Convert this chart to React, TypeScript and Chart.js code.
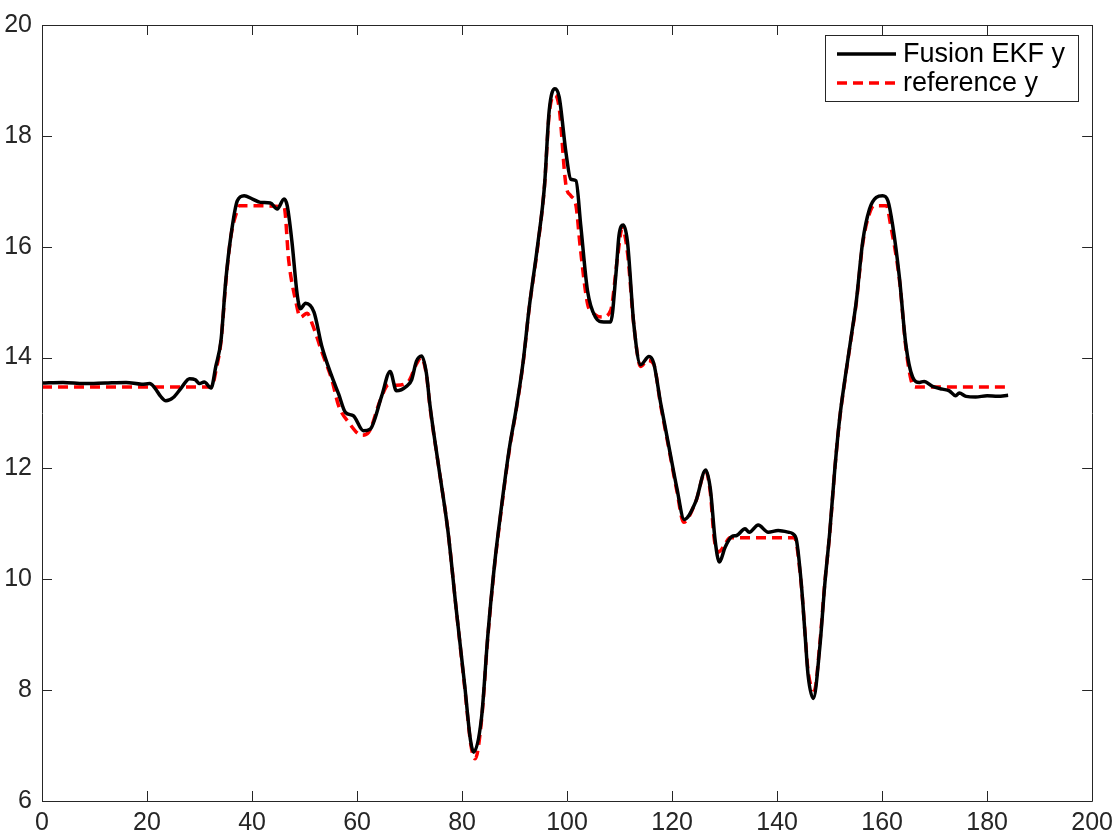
import { useEffect, useRef } from "react";
import { Chart, registerables } from "chart.js";

Chart.register(...registerables);

// ---- data ----
const seriesLabels = ["Fusion EKF y", "reference y"];

const fusionX = [
  0, 4, 8, 12, 16, 19, 20.5, 21.5, 22.6, 23.6, 25, 26.5, 28.1, 29.2, 30, 30.9, 32.2,
  33.1, 34.1, 35, 36, 37.2, 38.5, 40.1, 41.6, 43.5, 44.8, 46.1, 46.7, 47.6, 48.6, 49.2,
  50.2, 51.8, 53.3, 55.2, 56.5, 57.8, 59.3, 61.2, 62.5, 64.7, 66.3, 67.5, 69.4, 70.4,
  71.3, 72.3, 73.2, 73.9, 75.5, 77.3, 78.9, 80.5, 81.6, 82.2, 83.7, 84.9, 86.2, 87.4,
  89.0, 90.3, 91.6, 92.8, 94.4, 95.7, 96.6, 97.7, 98.5, 99.8, 100.7, 101.7, 102.6,
  103.9, 105.4, 107.0, 108.3, 109.3, 109.9, 110.7, 111.5, 112.7, 114.0, 115.6, 116.5,
  117.8, 118.4, 119.7, 120.9, 122.3, 124.5, 126.4, 127.3, 128.2, 129.0, 130.1, 131.4,
  132.3, 133.9, 134.7, 136.4, 138.3, 140.2, 142.1, 143.0, 143.7, 144.6, 145.3, 145.9,
  146.9, 148.1, 149.1, 150.0, 151.0, 151.9, 152.9, 154.1, 155.1, 156.3, 157.6, 158.9,
  160.1, 161.1, 162.0, 163.3, 164.5, 165.8, 167.1, 168.0, 169.6, 171.5, 172.8, 174.0,
  174.7, 176.0, 177.8, 180.0, 182.0, 184.0,
];
const fusionY = [
  13.54, 13.55, 13.53, 13.54, 13.55, 13.52, 13.53, 13.45, 13.3, 13.22, 13.28, 13.45,
  13.62, 13.6, 13.53, 13.56, 13.45, 13.84, 14.32, 15.39, 16.21, 16.83, 16.92, 16.86,
  16.8, 16.79, 16.68, 16.86, 16.74, 16.09, 15.14, 14.88, 14.98, 14.82, 14.2, 13.66,
  13.34, 13.01, 12.95, 12.68, 12.71, 13.31, 13.75, 13.4, 13.48, 13.6, 13.93, 14.03,
  13.72, 13.13, 12.06, 10.88, 9.45, 8.09, 7.1, 6.88, 7.5, 8.98, 10.28, 11.23, 12.36,
  13.07, 13.9, 14.91, 16.03, 17.1, 18.46, 18.85, 18.7, 17.69, 17.22, 17.19, 16.39,
  15.2, 14.73, 14.64, 14.64, 15.5, 16.21, 16.39, 16.09, 14.61, 13.87, 14.02, 13.9,
  13.19, 12.89, 12.24, 11.65, 11.08, 11.4, 11.97, 11.62, 10.7, 10.31, 10.58, 10.77,
  10.79, 10.91, 10.85, 10.98, 10.85, 10.88, 10.85, 10.82, 10.7, 9.93, 9.04, 8.27,
  7.85, 8.74, 9.93, 10.82, 12.0, 12.89, 13.6, 14.37, 15.03, 16.09, 16.68, 16.89,
  16.92, 16.83, 16.39, 15.44, 14.25, 13.65, 13.55, 13.57, 13.48, 13.43, 13.4, 13.31,
  13.36, 13.3, 13.29, 13.31, 13.3, 13.32,
];

const refX = [
  0, 32.3, 33.2, 34.1, 35, 36, 37, 37.6, 46.1, 47, 48.3, 49.2, 50.5, 51.5, 53.3, 55.2,
  56.5, 58.4, 60.9, 62.2, 64.5, 66, 67.5, 69.8, 71.3, 72.2, 73.2, 73.9, 75.5, 77.3,
  78.9, 80.5, 81.7, 82.5, 83.7, 84.9, 86.2, 87.4, 89.0, 90.3, 91.6, 92.8, 94.4, 95.7,
  96.6, 97.7, 98.5, 99.8, 100.7, 101.7, 102.5, 103.9, 105.1, 106.7, 108.3, 109.6,
  110.5, 111.5, 112.7, 114, 115.3, 116.5, 117.8, 118.4, 119.7, 120.9, 122.2, 124.5,
  126.4, 127.3, 128.0, 128.8, 130, 131, 143.3, 144.6, 145.3, 145.9, 147.1, 148.1,
  149.1, 150.0, 151.0, 151.9, 152.9, 154.1, 155.1, 156.3, 157.6, 158.5, 160.8, 161.6,
  163.3, 164.5, 165.5, 166.3, 184,
];
const refY = [
  13.47, 13.47, 13.8, 14.3, 15.35, 16.2, 16.6, 16.74, 16.72, 15.74, 15.03, 14.73,
  14.8, 14.6, 14.1, 13.6, 13.13, 12.83, 12.6, 12.65, 13.25, 13.51, 13.5, 13.57, 13.88,
  14.0, 13.7, 13.1, 12.06, 10.88, 9.45, 8.05, 7.0, 6.76, 7.45, 8.95, 10.25, 11.2,
  12.33, 13.05, 13.88, 14.9, 16.0, 17.1, 18.4, 18.73, 18.5, 17.1, 16.92, 16.74, 16.0,
  14.97, 14.79, 14.73, 14.85, 15.8, 16.33, 15.9, 14.6, 13.84, 13.95, 13.88, 13.15,
  12.85, 12.2, 11.6, 11.03, 11.4, 11.95, 11.55, 10.75, 10.49, 10.62, 10.75, 10.75,
  9.9, 9.05, 8.35, 8.0, 8.8, 9.95, 10.8, 12.0, 12.88, 13.58, 14.35, 15.0, 16.05,
  16.6, 16.74, 16.74, 16.4, 15.4, 14.2, 13.6, 13.47, 13.47,
];

const xTicks = [0, 20, 40, 60, 80, 100, 120, 140, 160, 180, 200];
const yTicks = [6, 8, 10, 12, 14, 16, 18, 20];

const FONT = "'Liberation Sans', Arial, Helvetica, sans-serif";
const AXIS_COLOR = "#262626";

const framePlugin = {
  id: "matlabFrame",
  afterDatasetsDraw(chart: any) {
    const { ctx, chartArea, scales } = chart;
    const { left, right, top, bottom } = chartArea;
    const tl = 10;
    ctx.save();
    ctx.strokeStyle = AXIS_COLOR;
    ctx.lineWidth = 1;
    ctx.beginPath();
    ctx.rect(Math.round(left) + 0.5, Math.round(top) + 0.5, Math.round(right - left), Math.round(bottom - top));
    scales.x.ticks.forEach((t: any) => {
      const px = Math.round(scales.x.getPixelForValue(t.value)) + 0.5;
      ctx.moveTo(px, bottom);
      ctx.lineTo(px, bottom - tl);
      ctx.moveTo(px, top);
      ctx.lineTo(px, top + tl);
    });
    scales.y.ticks.forEach((t: any) => {
      const py = Math.round(scales.y.getPixelForValue(t.value)) + 0.5;
      ctx.moveTo(left, py);
      ctx.lineTo(left + tl, py);
      ctx.moveTo(right, py);
      ctx.lineTo(right - tl, py);
    });
    ctx.stroke();
    ctx.restore();
  },
};

const legendPlugin = {
  id: "matlabLegend",
  afterDraw(chart: any) {
    const { ctx } = chart;
    const bx = 825, by = 35, bw = 253, bh = 66;
    ctx.save();
    ctx.fillStyle = "#ffffff";
    ctx.fillRect(bx, by, bw, bh);
    ctx.strokeStyle = AXIS_COLOR;
    ctx.lineWidth = 1;
    ctx.strokeRect(bx + 0.5, by + 0.5, bw, bh);
    const rows = [54, 83];
    chart.data.datasets.forEach((ds: any, i: number) => {
      const y = rows[i];
      ctx.strokeStyle = ds.borderColor;
      ctx.lineWidth = ds.borderWidth;
      ctx.setLineDash(ds.borderDash || []);
      ctx.beginPath();
      ctx.moveTo(837, y);
      ctx.lineTo(896, y);
      ctx.stroke();
      ctx.setLineDash([]);
      ctx.fillStyle = "#000000";
      ctx.font = `27px ${FONT}`;
      ctx.textBaseline = "middle";
      ctx.textAlign = "left";
      ctx.fillText(ds.label, 903, y + 1);
    });
    ctx.restore();
  },
};

export default function App() {
  const canvasRef = useRef<HTMLCanvasElement | null>(null);

  useEffect(() => {
    const canvas = canvasRef.current;
    if (!canvas) return;
    const chart = new Chart(canvas, {
      type: "line",
      data: {
        datasets: [
          {
            label: seriesLabels[0],
            data: fusionX.map((x, i) => ({ x, y: fusionY[i] })),
            borderColor: "#000000",
            borderWidth: 3.5,
            pointRadius: 0,
            cubicInterpolationMode: "monotone",
            fill: false,
          },
          {
            label: seriesLabels[1],
            data: refX.map((x, i) => ({ x, y: refY[i] })),
            borderColor: "#ff0000",
            borderWidth: 3.5,
            borderDash: [10, 6],
            pointRadius: 0,
            cubicInterpolationMode: "monotone",
            fill: false,
          },
        ],
      },
      options: {
        responsive: false,
        animation: false,
        events: [],
        layout: { padding: { top: 13.5, right: 23, left: 0, bottom: 0 } },
        plugins: { legend: { display: false }, tooltip: { enabled: false } },
        scales: {
          x: {
            type: "linear",
            min: 0,
            max: 200,
            grid: { display: false, drawTicks: false },
            border: { display: false },
            afterBuildTicks: (s: any) => {
              s.ticks = xTicks.map((v) => ({ value: v }));
            },
            afterFit: (s: any) => {
              s.height = 39;
            },
            ticks: {
              autoSkip: false,
              maxRotation: 0,
              padding: 7,
              color: AXIS_COLOR,
              font: { family: FONT, size: 25 },
            },
          },
          y: {
            type: "linear",
            min: 6,
            max: 20,
            grid: { display: false, drawTicks: false },
            border: { display: false },
            afterBuildTicks: (s: any) => {
              s.ticks = yTicks.map((v) => ({ value: v }));
            },
            afterFit: (s: any) => {
              s.width = 42;
            },
            ticks: {
              autoSkip: false,
              padding: 10,
              color: AXIS_COLOR,
              font: { family: FONT, size: 25 },
            },
          },
        },
      },
      plugins: [framePlugin, legendPlugin],
    } as any);
    return () => chart.destroy();
  }, []);

  return (
    <div style={{ position: "absolute", left: 0, top: 0, width: 1120, height: 840, background: "#fff" }}>
      <canvas ref={canvasRef} width={1120} height={840} style={{ display: "block" }} />
    </div>
  );
}
